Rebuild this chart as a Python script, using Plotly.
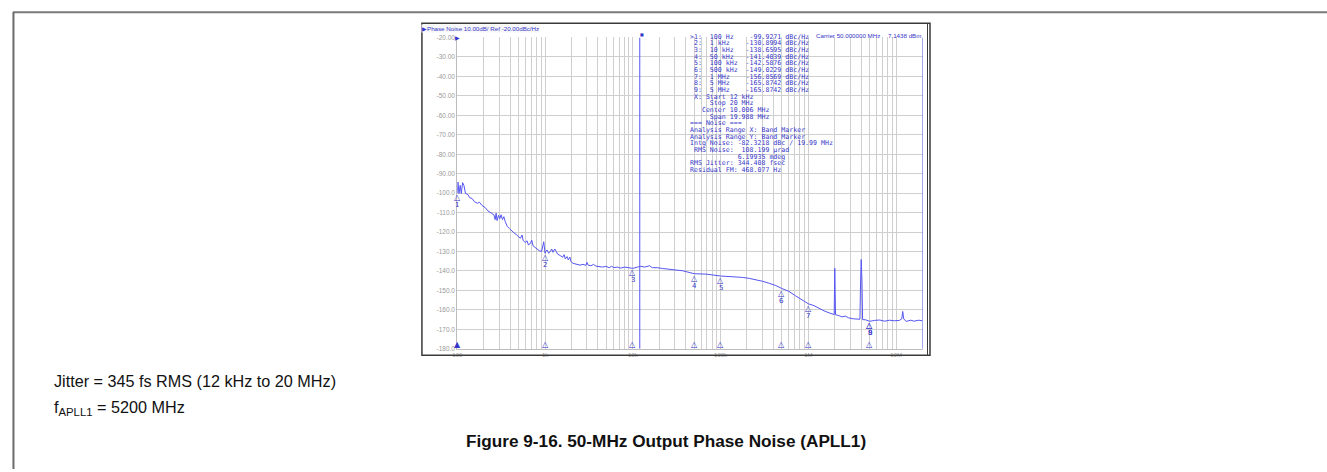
import numpy as np
import plotly.graph_objects as go

W, H = 1327, 472

# Offset frequency (Hz) and measured single-sideband phase noise (dBc/Hz)
freq_hz = [
    100, 101.8, 104.5, 108, 111, 115, 119, 124, 132, 139, 147, 157, 169, 179, 192,
    208, 223, 243, 261, 270, 277, 284, 295, 305, 316, 327, 339, 351, 370, 393,
    417, 440, 468, 498, 524, 547, 562, 594, 624, 646, 680, 705, 731, 770, 810,
    861, 914, 948, 966, 1000, 1019, 1056, 1100, 1150, 1190, 1230, 1290, 1340, 1390,
    1490, 1590, 1650, 1700, 1780, 1840, 1920, 1970, 2060, 2170, 2330, 2500, 2700,
    2920, 3000, 3100, 3330, 3570, 3800, 4150, 4520, 4930, 5380, 5730, 6120, 6680,
    7280, 8100, 8830, 10000, 11300, 12300, 13700, 15500, 16700, 19000, 21700,
    24700, 29400, 34900, 37000, 50000, 68100, 100000, 137000, 178000, 212000,
    253000, 301000, 358000, 426000, 500000, 600000, 712000, 848000, 1000000,
    1160000, 1320000, 1510000, 1720000, 1900000, 1970000, 2000000, 2040000,
    2220000, 2420000, 2640000, 2880000, 3280000, 3580000, 3870000, 3940000,
    4000000, 4080000, 4150000, 4500000, 5000000, 5700000, 6500000, 7400000,
    8400000, 9570000, 10900000, 11600000, 11900000, 12200000, 13000000,
    14700000, 16000000, 18100000, 19700000, 20000000,
]
noise_dbc = [
    -99.93, -94.3, -100.2, -96.0, -100.2, -94.6, -96.0, -100.2, -100.7, -102.4,
    -102.7, -104.4, -105.2, -104.7, -106.4, -107.4, -109.1, -110.3, -111.1, -113.6,
    -110.3, -114.1, -111.4, -113.1, -111.1, -113.6, -112.1, -114.5, -117.0, -118.2,
    -119.5, -120.3, -121.2, -122.5, -123.2, -121.5, -124.2, -125.4, -124.5, -126.6,
    -125.9, -124.2, -127.1, -127.9, -128.7, -129.6, -129.9, -127.1, -125.0, -130.9,
    -129.9, -129.2, -130.9, -129.9, -128.7, -130.4, -128.7, -129.9, -131.3, -132.1,
    -132.9, -131.6, -133.8, -132.6, -134.3, -132.9, -135.0, -136.0, -136.3, -136.6,
    -137.0, -136.6, -137.1, -135.6, -137.0, -137.3, -136.6, -137.5, -137.6, -138.0,
    -137.6, -138.3, -137.6, -138.3, -138.0, -138.5, -138.0, -138.3, -138.66, -138.0,
    -137.6, -138.0, -137.3, -138.3, -138.3, -138.7, -139.0, -139.4, -139.8, -139.9,
    -141.40, -141.6, -142.59, -142.9, -143.3, -143.8, -144.4, -145.3, -146.3, -147.5,
    -149.02, -150.5, -152.7, -154.7, -156.86, -157.8, -159.2, -160.5, -161.5, -162.2,
    -162.4, -138.6, -162.5, -162.9, -163.6, -163.2, -164.1, -164.6, -164.7, -164.8,
    -144.6, -134.1, -144.6, -165.0, -165.1, -165.87, -165.4, -165.2, -165.8, -165.3,
    -165.6, -165.4, -164.6, -160.8, -164.6, -165.9, -165.3, -165.8, -165.3, -165.8,
    -165.6,
]

# Analyzer markers
marker_ids = ["1", "2", "3", "4", "5", "6", "7", "8", "9"]
marker_freq_hz = [100, 1e3, 1e4, 5e4, 1e5, 5e5, 1e6, 5e6, 5e6]
marker_freq_text = ["100 Hz", "1 kHz", "10 kHz", "50 kHz", "100 kHz", "500 kHz",
                    "1 MHz", "5 MHz", "5 MHz"]
marker_dbc = [-99.9271, -130.8994, -138.6595, -141.4039, -142.5876, -149.0229,
              -156.8569, -165.8742, -165.8742]

# Integration band
band_start_hz = 12e3
band_stop_hz = 20e6

# Axis ticks
y_ticks = [-20, -30, -40, -50, -60, -70, -80, -90, -100, -110, -120, -130, -140,
           -150, -160, -170, -180]
y_tick_text = ["-20.00", "-30.00", "-40.00", "-50.00", "-60.00", "-70.00", "-80.00",
               "-90.00", "-100.0", "-110.0", "-120.0", "-130.0", "-140.0", "-150.0",
               "-160.0", "-170.0", "-180.0"]
x_ticks = [1e2, 1e3, 1e4, 1e5, 1e6, 1e7]
x_tick_text = ["100", "1k", "10k", "100k", "1M", "10M"]
x_minor = [k * 10 ** d for d in range(2, 8) for k in range(2, 10) if k * 10 ** d <= 2e7]

TRACE = "#5555f2"
TXT = "#3535c8"
GRID = "#cfcfcf"
TICK = "#9a9a9a"

# plot-area placement in pixels
PX0, PX1, PY0, PY1 = 454, 921, 34, 350


def px(x):
    return x / W


def py(y):
    return 1 - y / H


fig = go.Figure()

fig.add_trace(go.Scatter(
    x=freq_hz, y=noise_dbc, mode="lines",
    line=dict(color=TRACE, width=1), hoverinfo="skip", showlegend=False,
))
for f in (band_start_hz, band_stop_hz):
    fig.add_trace(go.Scatter(
        x=[f, f], y=[y_ticks[0], y_ticks[-1]], mode="lines",
        line=dict(color=TRACE, width=1), hoverinfo="skip", showlegend=False,
        cliponaxis=False,
    ))

ann = []
mono = dict(family="DejaVu Sans Mono", size=6.6, color=TXT)
small = dict(family="Liberation Sans", size=6.2, color=TXT)

# marker triangles on the trace and on the baseline
seen = set()
for mid, f, v in zip(marker_ids, marker_freq_hz, marker_dbc):
    lx = float(np.log10(f))
    ann.append(dict(x=lx, y=v, xref="x", yref="y", text="△", showarrow=False,
                    yanchor="top", yshift=2, font=dict(family="DejaVu Sans", size=8, color=TXT)))
    ann.append(dict(x=lx, y=v, xref="x", yref="y", text=mid, showarrow=False,
                    yanchor="middle", yshift=-12, font=dict(family="DejaVu Sans", size=7, color=TXT)))
    if f not in seen:
        seen.add(f)
        ann.append(dict(x=lx, y=y_ticks[-1], xref="x", yref="y",
                        text="▲" if mid == "1" else "△", showarrow=False,
                        yanchor="bottom", yshift=-2,
                        font=dict(family="DejaVu Sans", size=8, color=TXT)))

# marker readout / noise analysis block
sp = "\u00a0"
readout = []
for i, (mid, ft, v) in enumerate(zip(marker_ids, marker_freq_text, marker_dbc)):
    head = (">" if i == 0 else " ") + mid + ":  "
    val = f"{v:.4f}"
    line = head + ft + " " * (23 - len(head) - len(ft) - len(val)) + val + " dBc/Hz"
    readout.append(line)
readout += [
    " X: Start 12 kHz",
    "     Stop 20 MHz",
    "   Center 10.006 MHz",
    "     Span 19.988 MHz",
    "=== Noise ===",
    "Analysis Range X: Band Marker",
    "Analysis Range Y: Band Marker",
    "Intg Noise: -82.3218 dBc / 19.99 MHz",
    " RMS Noise:  108.199 µrad",
    "            6.19935 mdeg",
    "RMS Jitter: 344.408 fsec",
    "Residual FM: 468.077 Hz",
]
for i, line in enumerate(readout):
    ann.append(dict(x=px(686), y=py(33 + i * 6.78), xref="paper", yref="paper",
                    text=line.replace(" ", sp), showarrow=False, xanchor="left",
                    yanchor="middle", font=mono))

# instrument header texts
ann += [
    dict(x=px(418), y=py(24.5), xref="paper", yref="paper", xanchor="left", yanchor="middle",
         text="▶Phase Noise 10.00dB/ Ref -20.00dBc/Hz", showarrow=False, font=small,
         bgcolor="#f7f7f7", borderpad=0),
    dict(x=px(812), y=py(32), xref="paper", yref="paper", xanchor="left", yanchor="middle",
         text="Carrier 50.000000 MHz", showarrow=False, font=small),
    dict(x=px(921), y=py(32), xref="paper", yref="paper", xanchor="right", yanchor="middle",
         text="7.1438 dBm", showarrow=False, font=small),
    dict(x=px(450), y=py(PY0), xref="paper", yref="paper", xanchor="left", yanchor="middle",
         text="▶", showarrow=False, font=dict(family="DejaVu Sans", size=6, color=TXT)),
    dict(x=float(np.log10(band_start_hz)), y=py(31), xref="x", yref="paper", xanchor="left",
         yanchor="middle", text="■", showarrow=False,
         font=dict(family="DejaVu Sans", size=4, color=TXT), xshift=-2),
]

# figure captions
cap = dict(family="Liberation Sans", size=16.2, color="#111111")
ann += [
    dict(x=px(47), y=py(383), xref="paper", yref="paper", xanchor="left", yanchor="middle",
         text="Jitter = 345 fs RMS (12 kHz to 20 MHz)", showarrow=False, font=cap),
    dict(x=px(47), y=py(410), xref="paper", yref="paper", xanchor="left", yanchor="middle",
         text="f<sub>APLL1</sub> = 5200 MHz", showarrow=False, font=cap),
    dict(x=px(664), y=py(444), xref="paper", yref="paper", xanchor="center", yanchor="middle",
         text="<b>Figure 9-16. 50-MHz Output Phase Noise (APLL1)</b>", showarrow=False,
         font=dict(family="Liberation Sans", size=17.2, color="#111111")),
]

shapes = [
    # outer figure frame
    dict(type="line", xref="paper", yref="paper", x0=px(8), x1=1, y0=py(8.5), y1=py(8.5),
         line=dict(color="#7a7a7a", width=2)),
    dict(type="line", xref="paper", yref="paper", x0=px(8.5), x1=px(8.5), y0=py(8), y1=0,
         line=dict(color="#6a6a6a", width=2)),
    # instrument screen frame
    dict(type="rect", xref="paper", yref="paper", x0=px(418.5), x1=px(928.5),
         y0=py(356.5), y1=py(19.5), line=dict(color="#3a3a3a", width=1.5)),
    dict(type="line", xref="paper", yref="paper", x0=px(926), x1=px(926),
         y0=py(356.5), y1=py(19.5), line=dict(color="#3a3a3a", width=1)),
]

fig.update_layout(
    width=W, height=H,
    margin=dict(l=0, r=0, t=0, b=0),
    paper_bgcolor="white", plot_bgcolor="white",
    showlegend=False,
    annotations=ann, shapes=shapes,
    xaxis=dict(
        type="log", range=[np.log10(100), np.log10(2e7)],
        domain=[px(PX0), px(PX1)],
        tickvals=x_ticks, ticktext=x_tick_text, ticks="",
        tickfont=dict(family="Liberation Sans", size=6, color=TICK),
        showgrid=True, gridcolor=GRID, gridwidth=1,
        minor=dict(tickvals=x_minor, showgrid=True, gridcolor=GRID, ticks=""),
        showline=True, linecolor="#bdbdbd", linewidth=1, mirror=False,
        zeroline=False, fixedrange=True,
    ),
    yaxis=dict(
        range=[-180, -20], domain=[py(PY1), py(PY0)],
        tickvals=y_ticks, ticktext=y_tick_text, ticks="",
        tickfont=dict(family="Liberation Sans", size=6.5, color=TICK),
        showgrid=True, gridcolor=GRID, gridwidth=1,
        showline=True, linecolor="#bdbdbd", linewidth=1,
        zeroline=False, fixedrange=True,
    ),
)

fig.write_html("out.html")
